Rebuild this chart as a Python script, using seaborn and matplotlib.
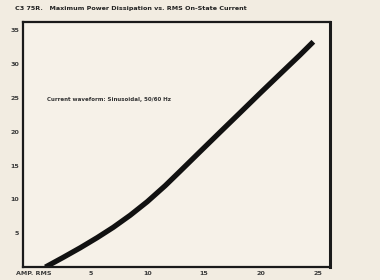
import pandas as pd
import matplotlib.pyplot as plt
import seaborn as sns

# values
current = [1.05, 2.63, 4.12, 5.61, 7.02, 8.51, 10.0, 11.58, 12.89,
           14.65, 16.4, 18.16, 19.91, 21.67, 23.42, 24.6]
power = [0.0, 1.45, 2.86, 4.36, 5.88, 7.67, 9.66, 12.03, 14.17,
         17.07, 19.94, 22.81, 25.68, 28.52, 31.33, 33.3]
x_ticks = [0, 5, 10, 15, 20, 25]
x_labels = ["AMP. RMS", "5", "10", "15", "20", "25"]
y_ticks = [5, 10, 15, 20, 25, 30, 35]

df = pd.DataFrame({"current": current, "power": power})

sns.set_style("white")
plt.rcParams["font.family"] = ["DejaVu Sans"]

paper = "#f2ece1"
fig = plt.figure(figsize=(3.8, 2.8), dpi=100, facecolor=paper)
ax = fig.add_axes([0.061, 0.046, 0.807, 0.875], facecolor="#f6f1e8")

sns.lineplot(data=df, x="current", y="power", color="#111111", linewidth=3.8,
             solid_capstyle="butt", solid_joinstyle="round", ax=ax)

ax.set_xlim(-0.9, 26.05)
ax.set_ylim(0, 36.2)
ax.set_xticks(x_ticks)
ax.set_xticklabels(x_labels)
ax.set_yticks(y_ticks)
ax.tick_params(length=0, labelsize=4.6, pad=3, colors="#3a3a3a")
for lbl in ax.get_xticklabels() + ax.get_yticklabels():
    lbl.set_fontweight("bold")
ax.set_xlabel("")
ax.set_ylabel("")
for side in ax.spines.values():
    side.set_visible(True)
    side.set_color("#1a1a1a")
    side.set_linewidth(1.6)
ax.spines["right"].set_linewidth(2.2)

ax.text(1.2, 24.7, "Current waveform: Sinusoidal, 50/60 Hz", fontsize=4,
        fontweight="bold", color="#333333", va="center")
fig.text(0.04, 0.968, "C3 75R.   Maximum Power Dissipation vs. RMS On-State Current",
         fontsize=4.6, fontweight="bold", color="#222222", va="center")

fig.savefig("out.png", dpi=100, facecolor=paper)
